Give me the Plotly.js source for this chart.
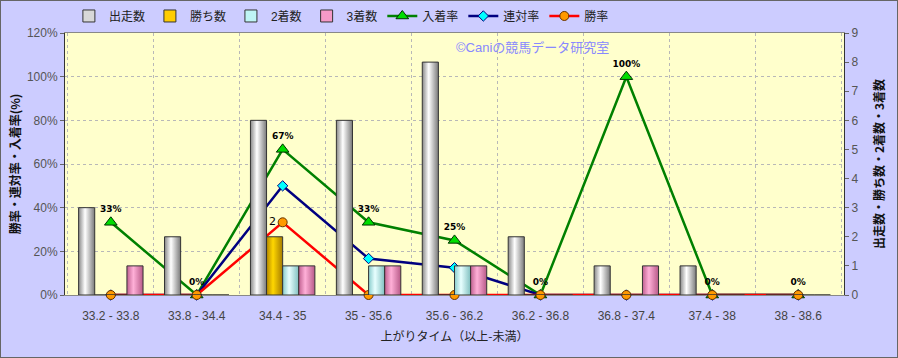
<!DOCTYPE html>
<html><head><meta charset="utf-8">
<script src="https://cdn.plot.ly/plotly-3.0.1.min.js"></script>
<style>
html,body{margin:0;padding:0;background:#ccccff;}
#chart{width:896px;height:356px;border:1px solid #666;}
</style></head>
<body><div id="chart"></div>
<script>
const categories = ["33.2 - 33.8","33.8 - 34.4","34.4 - 35","35 - 35.6","35.6 - 36.2","36.2 - 36.8","36.8 - 37.4","37.4 - 38","38 - 38.6"];
const starts  = [3,2,6,6,8,2,1,1,0];
const wins    = [0,0,2,0,0,0,0,0,0];
const seconds = [0,0,1,1,1,0,0,0,0];
const thirds  = [1,0,1,1,1,0,1,0,0];
const placeRate = [33.3,0,66.7,33.3,25,0,100,0,0];
const rentaiRate = [0,0,50,16.7,12.5,0,0,0,0];
const winRate = [0,0,33.3,0,0,0,0,0,0];
const placeLabels = ["33%","0%","67%","33%","25%","0%","100%","0%","0%"];
const winLabels = ["","","2","","","","","",""];

const F = "Liberation Sans, Arial, Noto Sans CJK JP, sans-serif";
const FJ = "Noto Sans CJK JP, sans-serif";
const barLine = {color:"#333333", width:1};
const traces = [
  {type:"bar", name:"出走数", x:categories, y:starts, yaxis:"y2", marker:{color:"#d8d8d8", line:barLine}},
  {type:"bar", name:"勝ち数", x:categories, y:wins, yaxis:"y2", marker:{color:"#ffcc00", line:barLine}},
  {type:"bar", name:"2着数", x:categories, y:seconds, yaxis:"y2", marker:{color:"#bff5f5", line:barLine}},
  {type:"bar", name:"3着数", x:categories, y:thirds, yaxis:"y2", marker:{color:"#f59ac8", line:barLine}},
  {type:"scatter", mode:"lines+markers+text", name:"入着率", x:categories, y:placeRate, cliponaxis:false,
   line:{color:"#008000", width:2.5},
   marker:{symbol:"triangle-up", size:11, color:"#00dd00", line:{color:"#003300", width:1}},
   text:placeLabels, textposition:"top center",
   textfont:{family:"DejaVu Sans, sans-serif", size:9, color:"#000", weight:"bold"}},
  {type:"scatter", mode:"lines+markers", name:"連対率", x:categories, y:rentaiRate, cliponaxis:false,
   line:{color:"#000080", width:2.5},
   marker:{symbol:"diamond", size:8, color:"#00ffff", line:{color:"#000080", width:1}}},
  {type:"scatter", mode:"lines+markers+text", name:"勝率", x:categories, y:winRate, cliponaxis:false,
   line:{color:"#ff0000", width:2.5},
   marker:{symbol:"circle", size:9, color:"#ff9900", line:{color:"#663300", width:1}},
   text:winLabels, textposition:"middle left",
   textfont:{family:"DejaVu Sans, sans-serif", size:11, color:"#000"}}
];

const layout = {
  width:896, height:356,
  margin:{l:64, r:53, t:32, b:62, autoexpand:false},
  paper_bgcolor:"#ccccff", plot_bgcolor:"#ffffcc",
  font:{family:F, size:12, color:"#333"},
  barmode:"group", bargap:0.25, bargroupgap:0,
  showlegend:true,
  legend:{orientation:"h", x:0.005, xanchor:"left", y:1.065, yanchor:"middle",
          font:{family:F, size:12, color:"#222"}, bgcolor:"rgba(0,0,0,0)", traceorder:"normal"},
  xaxis:{type:"category", tickson:"boundaries", showgrid:true, gridcolor:"#b8b8b8", griddash:"dot",
         ticks:"", ticklabelstandoff:10, showline:true, linecolor:"#888", mirror:true, layer:"below traces",
         tickfont:{size:12, color:"#444"},
         title:{text:"上がりタイム（以上-未満）", font:{family:FJ, size:12, color:"#222"}, standoff:10}},
  yaxis:{range:[0,120], dtick:20, ticksuffix:"%", showgrid:true, gridcolor:"#b8b8b8", griddash:"dot",
         ticks:"outside", ticklen:4, tickcolor:"#666", showline:true, linecolor:"#333",
         zeroline:false, tickfont:{size:12, color:"#555"},
         title:{text:"勝率・連対率・入着率(%)", font:{family:FJ, size:12, color:"#111", weight:"bold"}, standoff:3}},
  yaxis2:{overlaying:"y", side:"right", range:[0,9], dtick:1, showgrid:false, zeroline:false,
          ticks:"outside", ticklen:4, tickcolor:"#666", showline:true, linecolor:"#333",
          tickfont:{size:12, color:"#555"},
          title:{text:"出走数・勝ち数・2着数・3着数", font:{family:FJ, size:12, color:"#111", weight:"bold"}, standoff:18}},
  annotations:[
    {text:"©Caniの競馬データ研究室", xref:"paper", yref:"paper", x:0.6, y:0.945,
     xanchor:"center", yanchor:"middle", showarrow:false,
     font:{family:F, size:13, color:"#8888ff"}}
  ]
};

Plotly.newPlot("chart", traces, layout, {displayModeBar:false, staticPlot:true}).then(function(){
  const svg = document.querySelector("#chart .main-svg");
  let defs = svg.querySelector("defs");
  const ns = "http://www.w3.org/2000/svg";
  const grads = [
    ["#888888","#ffffff","#7a7a7a"],
    ["#b38600","#ffd700","#a67c00"],
    ["#88cccc","#e8ffff","#80c0c0"],
    ["#c06090","#ffb0d8","#b85a88"]
  ];
  grads.forEach(function(g,i){
    const lg = document.createElementNS(ns,"linearGradient");
    lg.setAttribute("id","bargrad"+i);
    lg.setAttribute("x1","0"); lg.setAttribute("x2","1");
    lg.setAttribute("y1","0"); lg.setAttribute("y2","0");
    [[0,g[0]],[0.4,g[1]],[1,g[2]]].forEach(function(s){
      const st = document.createElementNS(ns,"stop");
      st.setAttribute("offset", s[0]); st.setAttribute("stop-color", s[1]);
      lg.appendChild(st);
    });
    defs.appendChild(lg);
  });
  document.querySelectorAll("#chart .barlayer .trace").forEach(function(t,i){
    t.querySelectorAll("path").forEach(function(p){ p.style.fill = "url(#bargrad"+i+")"; });
  });
});
</script></body></html>
